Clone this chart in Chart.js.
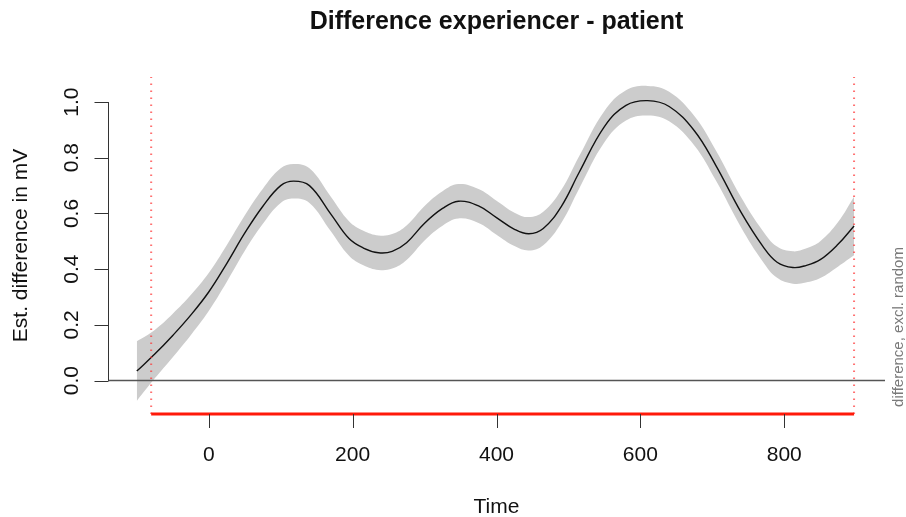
<!DOCTYPE html>
<html>
<head>
<meta charset="utf-8">
<script src="https://cdn.jsdelivr.net/npm/chart.js@4/dist/chart.umd.min.js"></script>
<style>
  html, body { margin: 0; padding: 0; background: #ffffff; }
  #wrap { width: 906px; height: 517px; }
</style>
</head>
<body>
<div id="wrap"><canvas id="chart" width="906" height="517"></canvas></div>
<script>
// Smoothed difference curve (experiencer - patient) with its confidence band
const timePoints = [-100, -75, -50, -25, 0, 25, 50, 75, 100, 118, 140, 170, 195, 215, 236, 255, 275, 300, 325, 347,
                    375, 400, 425, 445, 465, 490, 515, 550, 580, 610, 640, 675, 705, 740, 770, 790, 812, 830, 850, 875, 897];
const estimate   = [0.034, 0.095, 0.162, 0.235, 0.318, 0.420, 0.529, 0.625, 0.700, 0.716, 0.700, 0.597, 0.510, 0.476, 0.459,
                    0.464, 0.495, 0.565, 0.618, 0.644, 0.627, 0.585, 0.543, 0.527, 0.546, 0.625, 0.748, 0.912, 0.988, 1.005,
                    0.984, 0.897, 0.772, 0.604, 0.483, 0.425, 0.406, 0.413, 0.434, 0.490, 0.555];
const ciLower    = [-0.073, 0.008, 0.084, 0.163, 0.250, 0.354, 0.465, 0.562, 0.638, 0.654, 0.638, 0.535, 0.448, 0.414, 0.397,
                    0.402, 0.433, 0.503, 0.556, 0.582, 0.566, 0.524, 0.483, 0.467, 0.486, 0.566, 0.690, 0.856, 0.934, 0.952,
                    0.931, 0.844, 0.718, 0.550, 0.428, 0.369, 0.348, 0.352, 0.368, 0.410, 0.450];
const ciUpper    = [0.141, 0.182, 0.240, 0.307, 0.386, 0.486, 0.593, 0.688, 0.762, 0.778, 0.762, 0.659, 0.572, 0.538, 0.521,
                    0.526, 0.557, 0.627, 0.680, 0.706, 0.688, 0.646, 0.603, 0.587, 0.606, 0.684, 0.806, 0.968, 1.042, 1.058,
                    1.037, 0.950, 0.826, 0.658, 0.538, 0.481, 0.464, 0.474, 0.500, 0.570, 0.660];

// Window where the difference is significant
const sigWindow = [-80, 897];

// Axis ranges and ticks
const xRange = [-140, 940];
const yRange = [-0.12, 1.09];
const xTicks = [0, 200, 400, 600, 800];
const yTicks = [0, 0.2, 0.4, 0.6, 0.8, 1.0];
const yTickLabels = ['0.0', '0.2', '0.4', '0.6', '0.8', '1.0'];

const titleText = 'Difference experiencer - patient';
const xTitle = 'Time';
const yTitle = 'Est. difference in mV';
const sideNote = 'difference, excl. random';

const FONT = '"Liberation Sans", Arial, Helvetica, sans-serif';
const SMOOTH = 0.4;

const pts = ys => timePoints.map((t, i) => ({ x: t, y: ys[i] }));

// Axes, ticks and text in the base-graphics style
const axesPlugin = {
  id: 'baseAxes',
  afterDraw(chart) {
    const ctx = chart.ctx;
    const xs = chart.scales.x, ys = chart.scales.y;
    const area = chart.chartArea;
    ctx.save();
    ctx.fillStyle = '#111';
    ctx.strokeStyle = '#333';
    ctx.lineWidth = 1;

    // y axis line + ticks
    const yAxisX = Math.round(area.left) + 0.5;
    ctx.beginPath();
    ctx.moveTo(yAxisX, ys.getPixelForValue(yTicks[0]));
    ctx.lineTo(yAxisX, ys.getPixelForValue(yTicks[yTicks.length - 1]));
    yTicks.forEach(v => {
      const py = Math.round(ys.getPixelForValue(v)) + 0.5;
      ctx.moveTo(yAxisX, py);
      ctx.lineTo(yAxisX - 14, py);
    });
    ctx.stroke();

    // y tick labels, rotated
    ctx.font = '21px ' + FONT;
    ctx.textAlign = 'center';
    ctx.textBaseline = 'alphabetic';
    yTicks.forEach((v, i) => {
      ctx.save();
      ctx.translate(77.5, ys.getPixelForValue(v));
      ctx.rotate(-Math.PI / 2);
      ctx.fillText(yTickLabels[i], 0, 0);
      ctx.restore();
    });

    // x ticks
    const xAxisY = area.bottom;
    ctx.beginPath();
    xTicks.forEach(v => {
      const px = Math.round(xs.getPixelForValue(v)) + 0.5;
      ctx.moveTo(px, xAxisY);
      ctx.lineTo(px, xAxisY + 14);
    });
    ctx.stroke();

    // x tick labels
    xTicks.forEach(v => {
      ctx.fillText(String(v), xs.getPixelForValue(v), 461);
    });

    // axis titles
    const midX = (area.left + area.right) / 2;
    const midY = (area.top + area.bottom) / 2;
    ctx.fillText(xTitle, midX, 513);
    ctx.save();
    ctx.translate(26.5, midY);
    ctx.rotate(-Math.PI / 2);
    ctx.fillText(yTitle, 0, 0);
    ctx.restore();

    // main title
    ctx.font = 'bold 25px ' + FONT;
    ctx.fillText(titleText, midX, 29);

    // side note on the right margin
    ctx.fillStyle = '#7a7a7a';
    ctx.font = '15px ' + FONT;
    ctx.save();
    ctx.translate(903, 327);
    ctx.rotate(-Math.PI / 2);
    ctx.fillText(sideNote, 0, 0);
    ctx.restore();

    ctx.restore();
  }
};

new Chart(document.getElementById('chart'), {
  type: 'line',
  data: {
    datasets: [
      {
        label: 'upper',
        data: pts(ciUpper),
        borderWidth: 0,
        borderColor: 'rgba(0,0,0,0)',
        backgroundColor: '#cccccc',
        fill: '+1',
        tension: SMOOTH,
        pointRadius: 0,
        order: 6
      },
      {
        label: 'lower',
        data: pts(ciLower),
        borderWidth: 0,
        borderColor: 'rgba(0,0,0,0)',
        fill: false,
        tension: SMOOTH,
        pointRadius: 0,
        order: 5
      },
      {
        label: 'estimate',
        data: pts(estimate),
        borderColor: '#111111',
        borderWidth: 1.4,
        fill: false,
        tension: SMOOTH,
        pointRadius: 0,
        order: 4
      },
      {
        label: 'zero',
        data: [{ x: xRange[0], y: 0 }, { x: xRange[1], y: 0 }],
        borderColor: '#555555',
        borderWidth: 1.5,
        fill: false,
        tension: 0,
        pointRadius: 0,
        order: 3
      },
      {
        label: 'sig-start',
        data: [{ x: sigWindow[0], y: yRange[0] }, { x: sigWindow[0], y: yRange[1] }],
        borderColor: 'rgba(255,50,50,0.7)',
        borderWidth: 2,
        borderDash: [1.5, 5.5],
        fill: false,
        tension: 0,
        pointRadius: 0,
        order: 2
      },
      {
        label: 'sig-end',
        data: [{ x: sigWindow[1], y: yRange[0] }, { x: sigWindow[1], y: yRange[1] }],
        borderColor: 'rgba(255,50,50,0.7)',
        borderWidth: 2,
        borderDash: [1.5, 5.5],
        fill: false,
        tension: 0,
        pointRadius: 0,
        order: 2
      },
      {
        label: 'sig-window',
        data: [{ x: sigWindow[0], y: yRange[0] }, { x: sigWindow[1], y: yRange[0] }],
        borderColor: '#ff1a0a',
        borderWidth: 3,
        fill: false,
        tension: 0,
        pointRadius: 0,
        clip: false,
        order: 1
      }
    ]
  },
  options: {
    responsive: false,
    animation: false,
    events: [],
    layout: { padding: { left: 108, right: 21, top: 77, bottom: 103 } },
    plugins: {
      legend: { display: false },
      title: { display: false },
      tooltip: { enabled: false }
    },
    scales: {
      x: { type: 'linear', min: xRange[0], max: xRange[1], display: false },
      y: { type: 'linear', min: yRange[0], max: yRange[1], display: false }
    }
  },
  plugins: [axesPlugin]
});
</script>
</body>
</html>
